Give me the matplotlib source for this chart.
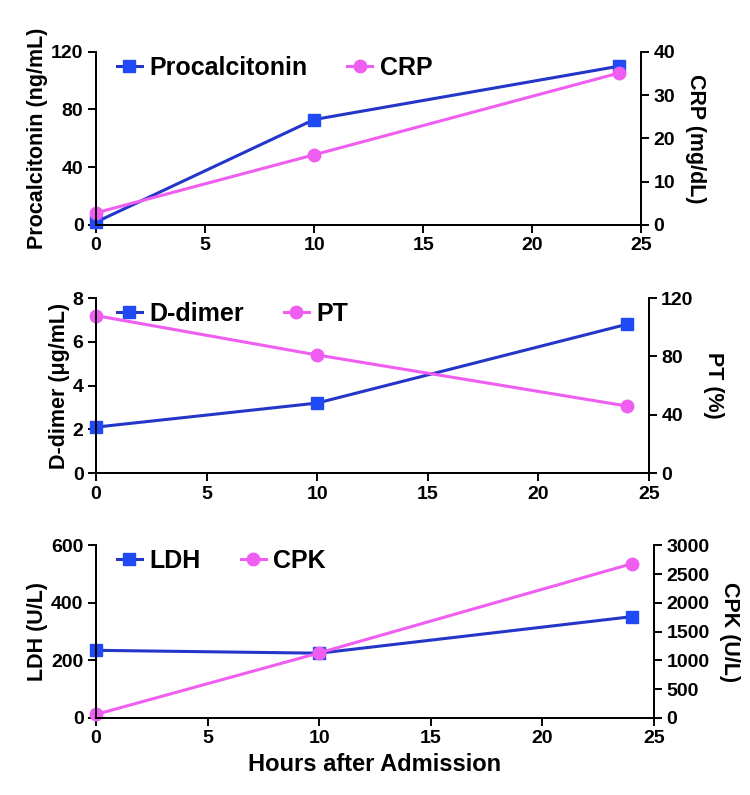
import numpy as np
import matplotlib
matplotlib.use("Agg")
import matplotlib.pyplot as plt

plt.rcParams['font.family'] = ['Liberation Sans', 'DejaVu Sans']
plt.rcParams['font.weight'] = 'bold'

hours = [0, 10, 24]

procalcitonin = [2, 73, 110]
crp = [2.8, 16.2, 35.1]

ddimer = [2.1, 3.2, 6.8]
pt = [108, 81, 46]

ldh = [235, 225, 352]
cpk = [60, 1130, 2680]

blue_line = '#2436c8'
blue_mark = '#1f4af5'
pink = '#ef5ef0'

panels = [
    # left name, left data, left label, left ticks, right name, right data, right label, right ticks, position
    ("Procalcitonin", procalcitonin, "Procalcitonin (ng/mL)", [0, 40, 80, 120],
     "CRP", crp, "CRP (mg/dL)", [0, 10, 20, 30, 40], [0.128, 0.717, 0.727, 0.218]),
    ("D-dimer", ddimer, "D-dimer (\u03bcg/mL)", [0, 2, 4, 6, 8],
     "PT", pt, "PT (%)", [0, 40, 80, 120], [0.128, 0.405, 0.737, 0.220]),
    ("LDH", ldh, "LDH (U/L)", [0, 200, 400, 600],
     "CPK", cpk, "CPK (U/L)", [0, 500, 1000, 1500, 2000, 2500, 3000], [0.128, 0.097, 0.744, 0.217]),
]

fig = plt.figure(figsize=(7.5, 7.95), dpi=100)

for i, (ln, ld, llab, lt, rn, rd, rlab, rt, pos) in enumerate(panels):
    ax = fig.add_axes(pos)
    ax2 = ax.twinx()
    l1, = ax.plot(hours, ld, color=blue_line, lw=2.2, marker='s', ms=9,
                  mfc=blue_mark, mec=blue_mark, clip_on=False, zorder=3, label=ln)
    l2, = ax2.plot(hours, rd, color=pink, lw=2.2, marker='o', ms=9,
                   mfc=pink, mec=pink, clip_on=False, zorder=2, label=rn)
    ax.set_xlim(0, 25)
    ax.set_xticks([0, 5, 10, 15, 20, 25])
    ax.set_ylim(lt[0], lt[-1])
    ax.set_yticks(lt)
    ax2.set_ylim(rt[0], rt[-1])
    ax2.set_yticks(rt)
    for a in (ax, ax2):
        a.spines['top'].set_visible(False)
        for s in a.spines.values():
            s.set_linewidth(1.4)
        a.tick_params(direction='out', length=6, width=1.4, labelsize=14, pad=3)
        for t in a.get_xticklabels() + a.get_yticklabels():
            t.set_fontweight('bold')
    ax.set_ylabel(llab, fontsize=15.5, fontweight='bold', labelpad=2)
    ax2.set_ylabel(rlab, fontsize=15.5, fontweight='bold', rotation=270, labelpad=22)
    ax.legend([l1, l2], [ln, rn], loc='upper left', ncol=2, frameon=False,
              handlelength=1.0, handletextpad=0.3, columnspacing=1.6,
              borderaxespad=0.1, bbox_to_anchor=(0.015, 1.05),
              prop={'weight': 'bold', 'size': 18})
    if i == 2:
        ax.set_xlabel("Hours after Admission", fontsize=17, fontweight='bold', labelpad=4)

fig.savefig("out.png", dpi=100)
